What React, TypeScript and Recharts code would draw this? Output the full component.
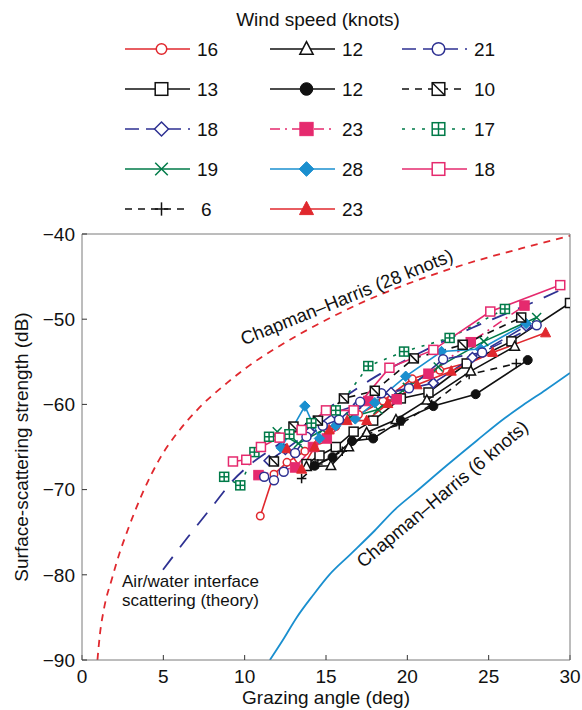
import React from 'react';
import { ComposedChart, Line, XAxis, YAxis, ReferenceDot, Label } from 'recharts';

const FONT = '"Liberation Sans", Arial, Helvetica, sans-serif';
const RED = '#e0282e';
const PINK = '#e52a6e';
const NAVY = '#2e3192';
const GREEN = '#007a48';
const BLUE = '#1a8fcf';
const BLACK = '#111111';

const xTicks = [0, 5, 10, 15, 20, 25, 30];
const yTicks = [-90, -80, -70, -60, -50, -40];

// Measured series: [grazing angle (deg), scattering strength (dB)]
const s16 = [[10.96, -73.1], [11.8, -68.2], [12.6, -66.8], [13.7, -65.5], [14.6, -64.2], [15.6, -62.6], [17.0, -61.2], [18.5, -59.6], [20.3, -57.0], [22.0, -56.0], [23.7, -55.1]];
const s13 = [[13.8, -67.0], [14.6, -66.0], [15.6, -65.0], [16.7, -63.2], [17.9, -61.9], [19.6, -59.3], [21.3, -58.6], [23.65, -55.2], [26.4, -52.6], [30.0, -48.1]];
const s18d = [[11.5, -66.6], [12.5, -65.3], [14.0, -63.2], [15.5, -61.0], [17.0, -60.0], [19.0, -58.6], [21.6, -57.5], [24.0, -54.5], [27.3, -50.8]];
const s19 = [[12.0, -63.2], [13.3, -64.6], [14.8, -63.0], [16.5, -61.5], [18.2, -60.6], [20.0, -58.0], [21.9, -55.6], [24.7, -52.6], [27.95, -49.8]];
const s6 = [[13.5, -68.7], [14.5, -67.0], [16.0, -65.5], [17.5, -63.5], [19.5, -62.4], [21.5, -60.0], [23.8, -56.5], [26.7, -55.2]];
const s12t = [[13.8, -67.3], [15.3, -67.2], [16.4, -65.0], [17.5, -63.3], [19.3, -61.8], [21.2, -59.5], [23.9, -56.1], [26.6, -53.2]];
const s12c = [[14.3, -67.2], [15.4, -66.2], [16.6, -64.3], [17.9, -64.0], [19.6, -61.9], [21.6, -60.2], [24.2, -58.8], [27.4, -54.8]];
const s23s = [[10.85, -68.3], [13.1, -67.4], [14.2, -65.0], [15.05, -64.0], [17.6, -59.6], [19.35, -59.4], [21.3, -56.4], [23.9, -52.7], [27.2, -48.4]];
const s28 = [[12.25, -65.1], [13.7, -60.2], [14.6, -64.0], [15.6, -62.5], [16.8, -61.7], [18.0, -59.8], [19.9, -56.7], [22.1, -53.8], [24.5, -53.5], [27.3, -50.5]];
const s23t = [[12.6, -65.2], [13.5, -67.6], [14.3, -65.0], [15.2, -63.0], [16.3, -61.9], [17.5, -61.9], [18.8, -59.9], [20.6, -57.7], [22.7, -56.1], [25.25, -53.9], [28.5, -51.6]];
const s21 = [[11.2, -68.5], [11.8, -68.9], [12.4, -67.9], [13.1, -65.7], [13.8, -63.8], [14.8, -62.5], [15.8, -61.8], [17.1, -59.7], [18.4, -58.7], [20.1, -58.1], [22.2, -54.7], [24.6, -53.9], [27.95, -50.7]];
const s10 = [[11.8, -66.7], [13.0, -62.6], [14.5, -61.9], [16.1, -59.3], [18.0, -58.4], [20.4, -54.6], [23.4, -53.0], [27.0, -49.8]];
const s17 = [[8.74, -68.5], [9.73, -69.5], [10.6, -65.6], [11.5, -63.8], [12.75, -63.5], [14.1, -62.2], [15.6, -60.7], [17.6, -55.5], [19.8, -53.8], [22.6, -52.2], [26.0, -48.8]];
const s18p = [[9.28, -66.7], [10.1, -66.5], [11.0, -65.0], [12.15, -63.9], [13.5, -63.0], [15.0, -60.7], [16.7, -60.7], [18.9, -55.7], [21.6, -53.6], [25.1, -49.1], [29.4, -46.0]];

// Model curves
const ch28 = [[0.95, -90], [1.1, -87], [1.35, -84], [1.85, -80.4], [2.3, -77.5], [2.8, -74.8], [3.7, -70.5], [4.8, -66.3], [6.0, -63.0], [7.1, -60.6], [8.9, -57.5], [10.1, -55.7], [12.0, -53.3], [15.0, -50.1], [17.5, -47.8], [20.8, -45.3], [24.5, -43.0], [27.0, -41.7], [30.0, -40.2]];
const ch6 = [[11.55, -90], [12.3, -87.8], [13.2, -85.0], [14.2, -82.4], [15.2, -80.0], [16.5, -77.6], [18.0, -74.8], [19.2, -72.4], [20.5, -70.3], [22.4, -67.2], [24.3, -64.2], [26.0, -61.6], [27.1, -60.1], [28.5, -58.3], [30.0, -56.3]];
const theory = [[4.98, -79.4], [6.5, -75.6], [8.0, -72.0], [9.3, -68.9], [10.5, -66.8], [12.0, -64.8], [14.0, -62.0], [16.0, -59.3], [18.0, -56.8], [20.0, -54.7], [22.0, -52.8], [24.0, -51.0], [26.0, -49.4], [28.0, -47.8], [29.6, -46.4]];

const toPts = (a: number[][]) => a.map(([x, y]) => ({ x, y }));

type Kind = 'circleOpen' | 'circleFilled' | 'square' | 'squareFilled' | 'squareDiag' | 'squareHatch' | 'diamondOpen' | 'diamondFilled' | 'triangleOpen' | 'triangleFilled' | 'x' | 'plus';

interface Series { key: string; label: string; data: number[][]; color: string; dash?: string; marker: Kind; size: number; }

const series: Series[] = [
  { key: 's16', label: '16', data: s16, color: RED, marker: 'circleOpen', size: 7.5 },
  { key: 's13', label: '13', data: s13, color: BLACK, marker: 'square', size: 9 },
  { key: 's18d', label: '18', data: s18d, color: NAVY, dash: '14 7', marker: 'diamondOpen', size: 10 },
  { key: 's19', label: '19', data: s19, color: GREEN, marker: 'x', size: 9 },
  { key: 's6', label: '6', data: s6, color: BLACK, dash: '7 6', marker: 'plus', size: 9.5 },
  { key: 's12t', label: '12', data: s12t, color: BLACK, marker: 'triangleOpen', size: 9.5 },
  { key: 's12c', label: '12', data: s12c, color: BLACK, marker: 'circleFilled', size: 9 },
  { key: 's23s', label: '23', data: s23s, color: PINK, dash: '10 5 2 5', marker: 'squareFilled', size: 9.5 },
  { key: 's28', label: '28', data: s28, color: BLUE, marker: 'diamondFilled', size: 10.5 },
  { key: 's23t', label: '23', data: s23t, color: RED, marker: 'triangleFilled', size: 10 },
  { key: 's21', label: '21', data: s21, color: NAVY, dash: '14 7', marker: 'circleOpen', size: 9 },
  { key: 's10', label: '10', data: s10, color: BLACK, dash: '7 6', marker: 'squareDiag', size: 9 },
  { key: 's17', label: '17', data: s17, color: GREEN, dash: '3 7', marker: 'squareHatch', size: 9 },
  { key: 's18p', label: '18', data: s18p, color: PINK, marker: 'square', size: 9 },
];

const legendColumns = [
  ['s16', 's13', 's18d', 's19', 's6'],
  ['s12t', 's12c', 's23s', 's28', 's23t'],
  ['s21', 's10', 's17', 's18p'],
];

function marker(kind: Kind, cx: number, cy: number, s: number, c: string) {
  const h = s / 2;
  const sw = 1.5;
  switch (kind) {
    case 'circleOpen':
      return <circle cx={cx} cy={cy} r={h} fill="#fff" stroke={c} strokeWidth={sw} />;
    case 'circleFilled':
      return <circle cx={cx} cy={cy} r={h} fill={c} stroke={c} strokeWidth={1} />;
    case 'square':
      return <rect x={cx - h} y={cy - h} width={s} height={s} fill="#fff" stroke={c} strokeWidth={sw} />;
    case 'squareFilled':
      return <rect x={cx - h} y={cy - h} width={s} height={s} fill={c} stroke={c} strokeWidth={1} />;
    case 'squareDiag':
      return (
        <g>
          <rect x={cx - h} y={cy - h} width={s} height={s} fill="#fff" stroke={c} strokeWidth={sw} />
          <line x1={cx - h} y1={cy - h} x2={cx + h} y2={cy + h} stroke={c} strokeWidth={sw} />
        </g>
      );
    case 'squareHatch':
      return (
        <g>
          <rect x={cx - h} y={cy - h} width={s} height={s} fill="#fff" stroke={c} strokeWidth={sw} />
          <line x1={cx} y1={cy - h} x2={cx} y2={cy + h} stroke={c} strokeWidth={sw} />
          <line x1={cx - h} y1={cy} x2={cx + h} y2={cy} stroke={c} strokeWidth={sw} />
        </g>
      );
    case 'diamondOpen':
      return <polygon points={`${cx},${cy - h} ${cx + h},${cy} ${cx},${cy + h} ${cx - h},${cy}`} fill="#fff" stroke={c} strokeWidth={sw} />;
    case 'diamondFilled':
      return <polygon points={`${cx},${cy - h} ${cx + h},${cy} ${cx},${cy + h} ${cx - h},${cy}`} fill={c} stroke={c} strokeWidth={1} />;
    case 'triangleOpen':
      return <polygon points={`${cx},${cy - h * 1.1} ${cx + h},${cy + h * 0.8} ${cx - h},${cy + h * 0.8}`} fill="#fff" stroke={c} strokeWidth={sw} />;
    case 'triangleFilled':
      return <polygon points={`${cx},${cy - h * 1.1} ${cx + h},${cy + h * 0.8} ${cx - h},${cy + h * 0.8}`} fill={c} stroke={c} strokeWidth={1} />;
    case 'x':
      return (
        <g>
          <line x1={cx - h} y1={cy - h} x2={cx + h} y2={cy + h} stroke={c} strokeWidth={sw} />
          <line x1={cx - h} y1={cy + h} x2={cx + h} y2={cy - h} stroke={c} strokeWidth={sw} />
        </g>
      );
    case 'plus':
      return (
        <g>
          <line x1={cx - h} y1={cy} x2={cx + h} y2={cy} stroke={c} strokeWidth={sw} />
          <line x1={cx} y1={cy - h} x2={cx} y2={cy + h} stroke={c} strokeWidth={sw} />
        </g>
      );
  }
  return null;
}

const fmt = (v: number) => (v < 0 ? `\u2212${-v}` : `${v}`);

const tickStyle = { fontSize: 19, fill: '#111', fontFamily: FONT };

function Legend() {
  const colX = [125, 270, 402];
  return (
    <svg width={582} height={232} style={{ position: 'absolute', left: 0, top: 0 }}>
      <text x={318} y={26} textAnchor="middle" fontSize={19} fontFamily={FONT} fill="#111">Wind speed (knots)</text>
      {legendColumns.map((col, ci) =>
        col.map((k, ri) => {
          const s = series.find((q) => q.key === k)!;
          const x0 = colX[ci];
          const cy = 49 + ri * 40;
          return (
            <g key={k}>
              <line x1={x0} y1={cy} x2={x0 + 65} y2={cy} stroke={s.color} strokeWidth={1.6} strokeDasharray={s.dash} />
              {marker(s.marker, x0 + 36.5, cy, s.size * 1.4, s.color)}
              <text x={x0 + 72 + (s.label.length === 1 ? 4 : 0)} y={cy + 7} fontSize={19} fontFamily={FONT} fill="#111">{s.label}</text>
            </g>
          );
        })
      )}
    </svg>
  );
}

const annoText = (lines: string[], angle: number, size: number, anchor: 'middle' | 'start') => (p: any) => {
  const { cx, cy } = p;
  if (lines.length === 1) {
    return (
      <text x={cx} y={cy} dy="0.35em" textAnchor={anchor} fontSize={size} fontFamily={FONT} fill="#111" transform={`rotate(${angle} ${cx} ${cy})`}>
        {lines[0]}
      </text>
    );
  }
  return (
    <text x={cx} y={cy} textAnchor={anchor} fontSize={size} fontFamily={FONT} fill="#111">
      {lines.map((l, i) => (
        <tspan key={i} x={cx} dy={i === 0 ? 0 : 19}>{l}</tspan>
      ))}
    </text>
  );
};

export default function App() {
  return (
    <div style={{ position: 'absolute', left: 0, top: 0, width: 582, height: 710, background: '#fff' }}>
      <ComposedChart width={582} height={710} margin={{ top: 234, right: 12, bottom: 0, left: 0 }}>
        <XAxis
          type="number"
          dataKey="x"
          domain={[0, 30]}
          ticks={xTicks}
          allowDataOverflow
          height={50}
          tickSize={-5}
          tickMargin={15}
          stroke="#7a7a7a"
          tickLine={{ stroke: '#333' }}
          tick={tickStyle}
          tickFormatter={fmt}
        >
          <Label
            content={(p: any) => {
              const vb = p.viewBox || { x: 82, width: 488 };
              return (
                <text x={vb.x + vb.width / 2} y={704} textAnchor="middle" fontSize={19} fontFamily={FONT} fill="#111">
                  Grazing angle (deg)
                </text>
              );
            }}
          />
        </XAxis>
        <XAxis xAxisId="top" orientation="top" type="number" domain={[0, 30]} ticks={xTicks} allowDataOverflow mirror tick={false} tickSize={5} stroke="#7a7a7a" tickLine={{ stroke: '#333' }} />
        <YAxis
          type="number"
          domain={[-90, -40]}
          ticks={yTicks}
          allowDataOverflow
          width={82}
          tickSize={-5}
          tickMargin={12}
          stroke="#7a7a7a"
          tickLine={{ stroke: '#333' }}
          tick={tickStyle}
          tickFormatter={fmt}
        >
          <Label
            content={() => (
              <text x={21} y={447} dy="0.35em" textAnchor="middle" fontSize={19} fontFamily={FONT} fill="#111" transform="rotate(-90 21 447)">
                Surface-scattering strength (dB)
              </text>
            )}
          />
        </YAxis>
        <YAxis yAxisId="right" orientation="right" type="number" domain={[-90, -40]} ticks={yTicks} allowDataOverflow mirror tick={false} tickSize={5} stroke="#7a7a7a" tickLine={{ stroke: '#333' }} />

        <Line data={toPts(ch28)} dataKey="y" type="monotone" stroke={RED} strokeWidth={1.8} strokeDasharray="7 6" dot={false} activeDot={false} isAnimationActive={false} />
        <Line data={toPts(ch6)} dataKey="y" type="monotone" stroke={BLUE} strokeWidth={1.8} dot={false} activeDot={false} isAnimationActive={false} />
        <Line data={toPts(theory)} dataKey="y" type="monotone" stroke={NAVY} strokeWidth={1.8} strokeDasharray="16 12" dot={false} activeDot={false} isAnimationActive={false} />

        {series.map((s) => (
          <Line
            key={s.key}
            data={toPts(s.data)}
            dataKey="y"
            stroke={s.color}
            strokeWidth={1.6}
            strokeDasharray={s.dash}
            isAnimationActive={false}
            activeDot={false}
            dot={(p: any) => (
              <g key={`${s.key}-${p.index}`}>{marker(s.marker, p.cx, p.cy, s.size, s.color)}</g>
            )}
          />
        ))}

        <ReferenceDot x={16.27} y={-47.4} r={0} shape={annoText(['Chapman\u2013Harris (28 knots)'], -22, 18.5, 'middle')} />
        <ReferenceDot x={22.15} y={-70.5} r={0} shape={annoText(['Chapman\u2013Harris (6 knots)'], -40, 18.5, 'middle')} />
        <ReferenceDot x={2.46} y={-81.43} r={0} shape={annoText(['Air/water interface', 'scattering (theory)'], 0, 17, 'start')} />
      </ComposedChart>
      <Legend />
    </div>
  );
}
